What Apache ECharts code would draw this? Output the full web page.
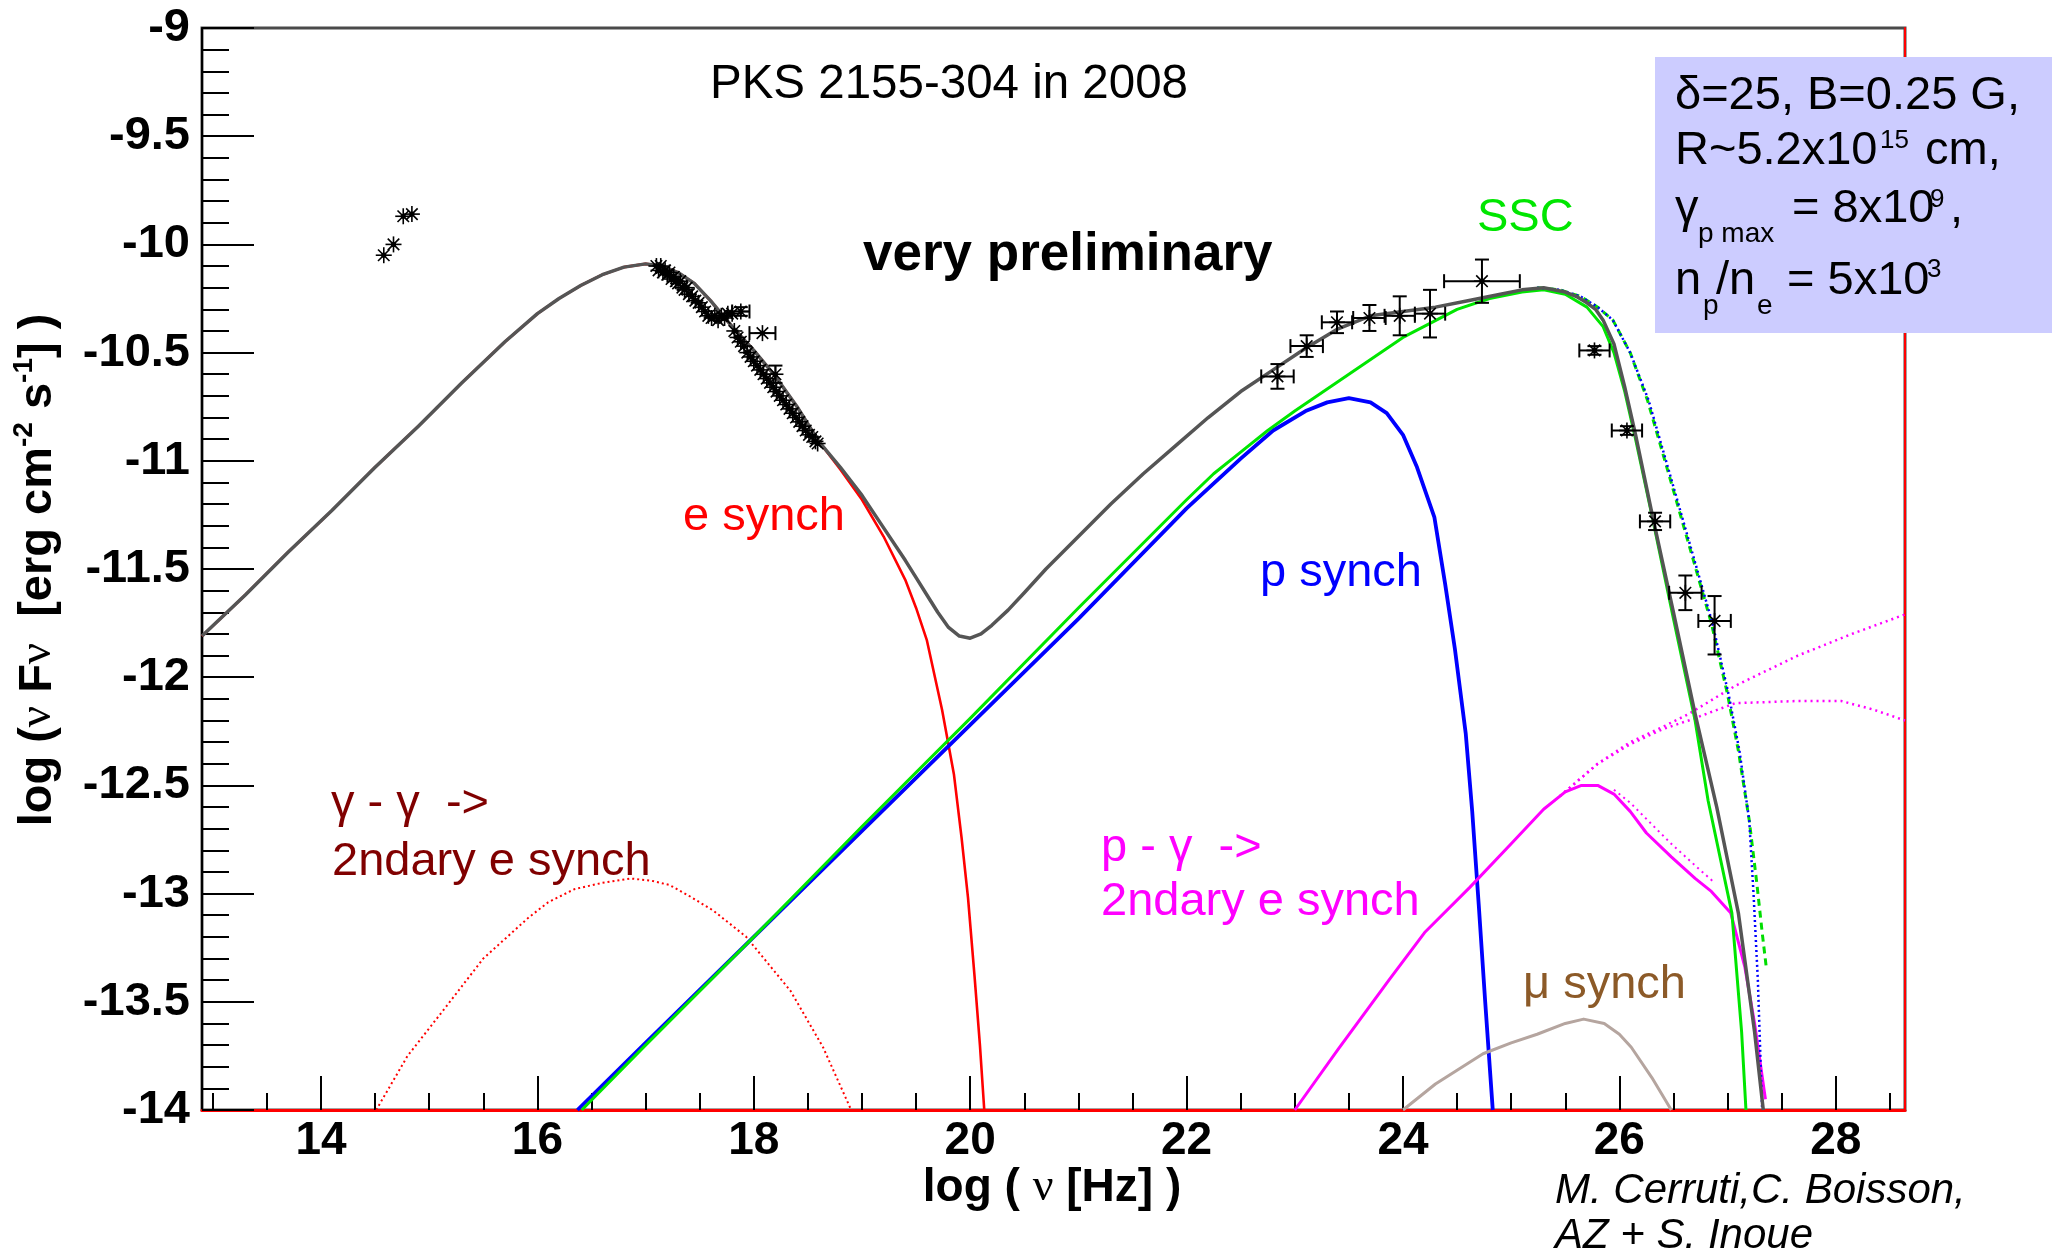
<!DOCTYPE html>
<html>
<head>
<meta charset="utf-8">
<title>PKS 2155-304 in 2008</title>
<script src="https://cdn.jsdelivr.net/npm/echarts@6.0.0/dist/echarts.min.js"></script>
<style>
html, body { margin: 0; padding: 0; background: #ffffff; }
#sed { width: 2052px; height: 1255px; }
</style>
</head>
<body>
<div id="sed"></div>
<script>
// ---- axis ranges and ticks (log10 nu [Hz], log10 nuFnu [erg cm^-2 s^-1]) ----
const xRange = [12.9, 28.64];
const yRange = [-14, -9];
const xMajorTicks = [14, 16, 18, 20, 22, 24, 26, 28];
const xMinorTicks = [13, 13.5, 14.5, 15, 15.5, 16.5, 17, 17.5, 18.5, 19, 19.5, 20.5, 21, 21.5,
  22.5, 23, 23.5, 24.5, 25, 25.5, 26.5, 27, 27.5, 28.5];

// ---- model components ----
const totalX = [12.9, 13.3, 13.7, 14.1, 14.5, 14.9, 15.3, 15.7, 16.0, 16.2, 16.4, 16.6, 16.8, 17.0,
  17.15, 17.3, 17.45, 17.6, 17.8, 18.0, 18.2, 18.4, 18.6, 18.8, 19.0, 19.2, 19.4, 19.5, 19.6, 19.7,
  19.8, 19.9, 20.0, 20.1, 20.2, 20.35, 20.5, 20.7, 21.0, 21.3, 21.6, 21.9, 22.2, 22.5, 22.8, 23.1,
  23.4, 23.7, 24.0, 24.3, 24.6, 24.9, 25.1, 25.3, 25.5, 25.6, 25.7, 25.78, 25.85, 25.95, 26.05,
  26.15, 26.3, 26.5, 26.7, 26.9, 27.1, 27.25, 27.33];
const totalY = [-11.81, -11.62, -11.42, -11.23, -11.03, -10.84, -10.64, -10.45, -10.32, -10.25,
  -10.19, -10.14, -10.105, -10.09, -10.10, -10.13, -10.18, -10.26, -10.38, -10.49, -10.61, -10.75,
  -10.91, -11.03, -11.16, -11.31, -11.46, -11.54, -11.62, -11.70, -11.77, -11.81, -11.82, -11.80,
  -11.76, -11.69, -11.61, -11.5, -11.35, -11.2, -11.06, -10.93, -10.8, -10.68, -10.58, -10.48,
  -10.39, -10.33, -10.31, -10.29, -10.26, -10.23, -10.21, -10.2, -10.22, -10.24, -10.27, -10.30,
  -10.35, -10.46, -10.66, -10.88, -11.24, -11.7, -12.17, -12.6, -13.09, -13.64, -14.0];

const eSynchX = [12.9, 13.3, 13.7, 14.1, 14.5, 14.9, 15.3, 15.7, 16.0, 16.2, 16.4, 16.6, 16.8, 17.0,
  17.15, 17.3, 17.45, 17.6, 17.8, 18.0, 18.2, 18.4, 18.6, 18.8, 19.0, 19.2, 19.4, 19.5, 19.6, 19.74,
  19.85, 19.92, 19.98, 20.04, 20.09, 20.13];
const eSynchY = [-11.81, -11.62, -11.42, -11.23, -11.03, -10.84, -10.64, -10.45, -10.32, -10.25,
  -10.19, -10.14, -10.105, -10.09, -10.10, -10.13, -10.18, -10.26, -10.38, -10.49, -10.61, -10.75,
  -10.91, -11.04, -11.18, -11.35, -11.55, -11.68, -11.83, -12.15, -12.45, -12.74, -13.02, -13.38,
  -13.7, -14.0];

const pSynchX = [16.37, 17, 18, 19, 20, 21, 22, 22.5, 22.8, 23.1, 23.3, 23.5, 23.7, 23.85, 24.0,
  24.13, 24.29, 24.39, 24.48, 24.58, 24.64, 24.7, 24.76, 24.83];
const pSynchY = [-14, -13.69, -13.2, -12.71, -12.22, -11.73, -11.22, -10.99, -10.86, -10.77, -10.73,
  -10.71, -10.73, -10.78, -10.88, -11.03, -11.26, -11.57, -11.87, -12.26, -12.62, -13.05, -13.5, -14];

const sscX = [16.41, 17, 18, 19, 20, 21, 22, 22.25, 22.5, 22.75, 23.0, 23.5, 24.0, 24.5, 24.8, 25.1,
  25.3, 25.5, 25.7, 25.85, 25.95, 26.05, 26.15, 26.3, 26.5, 26.7, 26.82, 27.04, 27.13, 27.17];
const sscY = [-14, -13.70, -13.2, -12.69, -12.19, -11.68, -11.18, -11.06, -10.96, -10.86, -10.77,
  -10.6, -10.43, -10.3, -10.25, -10.22, -10.21, -10.23, -10.29, -10.38, -10.5, -10.68, -10.9, -11.25,
  -11.73, -12.2, -12.57, -13.09, -13.64, -14];

// intrinsic (unabsorbed) high-energy curves
const sscIntX = [25.24, 25.45, 25.64, 25.8, 25.94, 26.1, 26.26, 26.45, 26.65, 26.85, 27.0, 27.1,
  27.2, 27.27, 27.32, 27.36];
const sscIntY = [-10.2, -10.21, -10.24, -10.29, -10.35, -10.5, -10.72, -11.05, -11.4, -11.75, -12.08,
  -12.34, -12.66, -12.95, -13.18, -13.35];
const totIntX = [25.24, 25.45, 25.64, 25.8, 25.94, 26.1, 26.27, 26.46, 26.66, 26.86, 27.01, 27.11,
  27.2, 27.24, 27.28, 27.32];
const totIntY = [-10.2, -10.21, -10.24, -10.29, -10.35, -10.5, -10.72, -11.05, -11.4, -11.75, -12.08,
  -12.34, -12.66, -13.0, -13.4, -14.0];

// p-gamma secondary electron synchrotron
const pgX = [23.0, 23.4, 23.87, 24.2, 24.62, 25.0, 25.3, 25.5, 25.65, 25.8, 25.95, 26.1, 26.25,
  26.48, 26.7, 26.85, 27.03, 27.16, 27.25, 27.35];
const pgY = [-14.0, -13.72, -13.4, -13.18, -12.97, -12.77, -12.61, -12.53, -12.5, -12.5, -12.54,
  -12.62, -12.72, -12.83, -12.93, -12.99, -13.09, -13.34, -13.6, -13.95];
const pgTailX = [25.95, 26.1, 26.3, 26.48, 26.7, 26.88];
const pgTailY = [-12.52, -12.58, -12.68, -12.77, -12.87, -12.95];
const pgCascadeAX = [25.45, 25.8, 26.1, 26.4, 26.64, 27.07, 27.65, 28.15, 28.64];
const pgCascadeAY = [-12.55, -12.4, -12.3, -12.23, -12.17, -12.04, -11.9, -11.8, -11.71];
const pgCascadeBX = [25.45, 25.8, 26.1, 26.4, 26.64, 27.07, 27.65, 28.05, 28.35, 28.64];
const pgCascadeBY = [-12.55, -12.4, -12.31, -12.24, -12.2, -12.12, -12.11, -12.11, -12.15, -12.2];

// muon synchrotron
const muX = [24.0, 24.3, 24.74, 25.0, 25.24, 25.5, 25.67, 25.86, 26.0, 26.11, 26.3, 26.48];
const muY = [-14, -13.88, -13.74, -13.69, -13.65, -13.6, -13.58, -13.6, -13.65, -13.71, -13.85, -14];

// gamma-gamma secondary electron synchrotron
const ggX = [14.51, 14.8, 15.16, 15.5, 15.92, 16.1, 16.34, 16.6, 16.86, 17.05, 17.22, 17.4, 17.63,
  17.93, 18.34, 18.64, 18.9];
const ggY = [-14, -13.75, -13.52, -13.3, -13.11, -13.04, -12.98, -12.95, -12.93, -12.94, -12.96,
  -13.01, -13.08, -13.2, -13.45, -13.71, -14];

// ---- observations ----
const optX = [14.58, 14.67, 14.76, 14.84];
const optY = [-10.05, -10.00, -9.87, -9.86];

const xrayX = [17.10, 17.12, 17.14, 17.16, 17.18, 17.20, 17.22, 17.24, 17.26, 17.28, 17.30, 17.32,
  17.34, 17.36, 17.38, 17.40, 17.43, 17.46, 17.49, 17.52, 17.55, 17.58, 17.61, 17.64, 17.67, 17.70,
  17.73, 17.76, 17.80, 17.82, 17.85, 17.88, 17.91, 17.94, 17.97, 18.00, 18.03, 18.06, 18.09, 18.12,
  18.15, 18.18, 18.21, 18.24, 18.27, 18.30, 18.33, 18.36, 18.39, 18.42, 18.45, 18.48, 18.51, 18.54,
  18.57, 18.59];
const xrayY = [-10.10, -10.12, -10.10, -10.13, -10.12, -10.14, -10.13, -10.16, -10.15, -10.17, -10.18,
  -10.17, -10.20, -10.21, -10.20, -10.23, -10.24, -10.26, -10.27, -10.29, -10.31, -10.33, -10.34,
  -10.33, -10.35, -10.33, -10.34, -10.32, -10.32, -10.40, -10.43, -10.45, -10.47, -10.50, -10.52,
  -10.54, -10.56, -10.58, -10.60, -10.62, -10.64, -10.66, -10.68, -10.70, -10.72, -10.74, -10.76,
  -10.78, -10.80, -10.82, -10.84, -10.86, -10.88, -10.89, -10.91, -10.92];
// X-ray points drawn with error bars
const xrayBarX = [17.88, 18.08, 18.20];
const xrayBarY = [-10.31, -10.41, -10.60];
const xrayBarXErr = [0.08, 0.12, 0];
const xrayBarYErr = [0.02, 0, 0.04];

const gevX = [22.84, 23.11, 23.39, 23.69, 23.97, 24.25, 24.73];
const gevY = [-10.61, -10.47, -10.36, -10.34, -10.33, -10.32, -10.17];
const gevXErr = [0.15, 0.15, 0.14, 0.15, 0.14, 0.14, 0.35];
const gevYErr = [0.057, 0.05, 0.05, 0.06, 0.09, 0.11, 0.1];

const tevX = [25.77, 26.07, 26.33, 26.61, 26.88];
const tevY = [-10.49, -10.86, -11.28, -11.61, -11.74];
const tevXErr = [0.14, 0.14, 0.14, 0.15, 0.15];
const tevYErrLo = [0.02, 0.02, 0.04, 0.08, 0.155];
const tevYErrHi = [0.02, 0.02, 0.04, 0.08, 0.115];

// ---- helpers ----
const SANS = '"Liberation Sans", Arial, Helvetica, sans-serif';
const SERIF = '"Liberation Serif", "Times New Roman", serif';

function pairs(xs, ys) { return xs.map((x, i) => [x, ys[i]]); }

function curve(name, xs, ys, color, width, dash, z) {
  return {
    name: name, type: 'line', data: pairs(xs, ys),
    showSymbol: false, symbol: 'none', smooth: false,
    lineStyle: { color: color, width: width, type: dash || 'solid', cap: 'butt', join: 'round' },
    z: z || 2, silent: true, animation: false, clip: true
  };
}

// rows: [x, y, xErrLo, xErrHi, yErrLo, yErrHi]
function obsRows(xs, ys, xl, xh, yl, yh) {
  return xs.map((x, i) => [x, ys[i],
    xl ? xl[i] : 0, xh ? xh[i] : 0, yl ? yl[i] : 0, yh ? yh[i] : 0]);
}

function renderObs(params, api) {
  const x = api.value(0), y = api.value(1);
  const xl = api.value(2), xh = api.value(3), yl = api.value(4), yh = api.value(5);
  const c = api.coord([x, y]);
  const kids = [];
  const seg = (x1, y1, x2, y2, w) => kids.push({
    type: 'line', shape: { x1: x1, y1: y1, x2: x2, y2: y2 },
    style: { stroke: '#000', lineWidth: w || 2 }
  });
  const cap = 7;
  if (xl > 0 || xh > 0) {
    const a = api.coord([x - xl, y]), b = api.coord([x + xh, y]);
    seg(a[0], a[1], b[0], b[1]);
    seg(a[0], a[1] - cap, a[0], a[1] + cap);
    seg(b[0], b[1] - cap, b[0], b[1] + cap);
  }
  if (yl > 0 || yh > 0) {
    const a = api.coord([x, y - yl]), b = api.coord([x, y + yh]);
    seg(a[0], a[1], b[0], b[1]);
    seg(a[0] - cap, a[1], a[0] + cap, a[1]);
    seg(b[0] - cap, b[1], b[0] + cap, b[1]);
  }
  const r = 8, d = r * 0.72;
  seg(c[0] - r, c[1], c[0] + r, c[1], 1.6);
  seg(c[0], c[1] - r, c[0], c[1] + r, 1.6);
  seg(c[0] - d, c[1] - d, c[0] + d, c[1] + d, 1.6);
  seg(c[0] - d, c[1] + d, c[0] + d, c[1] - d, 1.6);
  kids.push({ type: 'circle', shape: { cx: c[0], cy: c[1], r: 2.6 }, style: { fill: '#000' } });
  return { type: 'group', children: kids };
}

function obsSeries(name, rows) {
  return {
    name: name, type: 'custom', data: rows, encode: { x: 0, y: 1 },
    renderItem: renderObs, z: 10, silent: true, animation: false, clip: false
  };
}

function label(text, x, y, color, size, extra) {
  return {
    type: 'text', x: x, y: y, z: 100, silent: true,
    style: Object.assign({
      text: text, fill: color, fontSize: size, fontFamily: SANS,
      align: 'left', verticalAlign: 'middle', textAlign: 'left', textVerticalAlign: 'middle'
    }, extra || {})
  };
}

const chart = echarts.init(document.getElementById('sed'), null, { renderer: 'canvas' });

chart.setOption({
  animation: false,
  backgroundColor: '#ffffff',
  grid: {
    left: 202, top: 28, right: 147, bottom: 145,
    show: true, borderColor: '#4a4a4a', borderWidth: 3, backgroundColor: 'transparent'
  },
  xAxis: [{
    type: 'value', min: xRange[0], max: xRange[1], position: 'bottom',
    splitLine: { show: false },
    axisLine: { show: true, onZero: false, lineStyle: { color: '#ff0000', width: 3 } },
    axisTick: { show: true, inside: true, length: 34, customValues: xMajorTicks,
      lineStyle: { color: '#000', width: 2 } },
    axisLabel: { show: true, customValues: xMajorTicks, margin: 8, color: '#000',
      fontFamily: SANS, fontWeight: 'bold', fontSize: 46 }
  }, {
    type: 'value', min: xRange[0], max: xRange[1], position: 'bottom',
    splitLine: { show: false },
    axisLine: { show: false, onZero: false },
    axisTick: { show: true, inside: true, length: 17, customValues: xMinorTicks,
      lineStyle: { color: '#000', width: 2 } },
    axisLabel: { show: false }
  }],
  yAxis: [{
    type: 'value', min: yRange[0], max: yRange[1], interval: 0.5, position: 'left',
    splitLine: { show: false },
    axisLine: { show: true, onZero: false, lineStyle: { color: '#000', width: 2 } },
    axisTick: { show: true, inside: true, length: 52, lineStyle: { color: '#000', width: 2 } },
    minorTick: { show: true, splitNumber: 5, length: 27, lineStyle: { color: '#000', width: 2 } },
    axisLabel: { show: true, margin: 12, color: '#000', fontFamily: SANS, fontWeight: 'bold',
      fontSize: 47 }
  }, {
    type: 'value', min: yRange[0], max: yRange[1], position: 'right',
    splitLine: { show: false },
    axisLine: { show: true, onZero: false, lineStyle: { color: '#ff0000', width: 2 } },
    axisTick: { show: false }, axisLabel: { show: false }
  }],
  series: [
    curve('gamma-gamma 2ndary e synch', ggX, ggY, '#ff0000', 2, [2, 3], 2),
    curve('e synch', eSynchX, eSynchY, '#ff0000', 2.6, 'solid', 3),
    curve('p synch', pSynchX, pSynchY, '#0000ff', 3.8, 'solid', 3),
    curve('SSC', sscX, sscY, '#00e600', 3, 'solid', 4),
    curve('p-gamma 2ndary e synch', pgX, pgY, '#ff00ff', 3, 'solid', 3),
    curve('p-gamma 2ndary e synch tail', pgTailX, pgTailY, '#ff00ff', 2, [2, 4], 3),
    curve('p-gamma cascade A', pgCascadeAX, pgCascadeAY, '#ff00ff', 2.5, [2, 4], 3),
    curve('p-gamma cascade B', pgCascadeBX, pgCascadeBY, '#ff00ff', 2.5, [2, 4], 3),
    curve('mu synch', muX, muY, '#b5a59f', 3, 'solid', 3),
    curve('SSC intrinsic', sscIntX, sscIntY, '#00dd00', 3, [7, 5], 4),
    curve('total intrinsic', totIntX, totIntY, '#0000ff', 2.5, [2, 3], 4),
    curve('total', totalX, totalY, '#555555', 3.5, 'solid', 6),
    obsSeries('optical', obsRows(optX, optY)),
    obsSeries('X-ray', obsRows(xrayX, xrayY)),
    obsSeries('X-ray with errors', obsRows(xrayBarX, xrayBarY, xrayBarXErr, xrayBarXErr, xrayBarYErr, xrayBarYErr)),
    obsSeries('Fermi', obsRows(gevX, gevY, gevXErr, gevXErr, gevYErr, gevYErr)),
    obsSeries('HESS', obsRows(tevX, tevY, tevXErr, tevXErr, tevYErrLo, tevYErrHi))
  ],
  graphic: [
    label('PKS 2155-304 in 2008', 949, 85, '#000', 47.5, { align: 'center', textAlign: 'center' }),
    label('very preliminary', 863, 255, '#000', 53, { fontWeight: 'bold' }),
    label('SSC', 1477, 218, '#00e600', 47),
    label('e synch', 683, 517, '#ff0000', 47),
    label('p synch', 1260, 573, '#0000ff', 47),
    label('\u03b3 - \u03b3  ->', 331, 804, '#800000', 47),
    label('2ndary e synch', 332, 862, '#800000', 47),
    label('p - \u03b3  ->', 1101, 848, '#ff00ff', 47),
    label('2ndary e synch', 1101, 902, '#ff00ff', 47),
    label('\u03bc synch', 1523, 985, '#8c5a28', 47),
    label('M. Cerruti,C. Boisson,', 1555, 1191, '#000', 42, { fontStyle: 'italic' }),
    label('AZ + S. Inoue', 1555, 1236, '#000', 42, { fontStyle: 'italic' }),
    // parameter box
    { type: 'rect', z: 90, silent: true, shape: { x: 1655, y: 57, width: 397, height: 276 },
      style: { fill: '#ccccff' } },
    label('\u03b4=25, B=0.25 G,', 1675, 96, '#000', 47),
    label('R~5.2x10', 1675, 151, '#000', 47),
    label('15', 1880, 141, '#000', 26),
    label('cm,', 1925, 151, '#000', 47),
    label('\u03b3', 1675, 209, '#000', 47),
    label('p max', 1698, 234, '#000', 28),
    label('= 8x10', 1792, 209, '#000', 47),
    label('9', 1930, 200, '#000', 26),
    label(',', 1950, 209, '#000', 47),
    label('n', 1675, 281, '#000', 47),
    label('p', 1703, 306, '#000', 28),
    label('/n', 1716, 281, '#000', 47),
    label('e', 1757, 306, '#000', 28),
    label('= 5x10', 1787, 281, '#000', 47),
    label('3', 1927, 270, '#000', 26),
    // axis titles
    { type: 'text', x: 38, y: 570, rotation: Math.PI / 2, z: 100, silent: true,
      style: {
        text: '{b|log (}{n|\u03bd}{b| F}{n|\u03bd}{b|  [erg cm}{s|-2}{b| s}{s|-1}{b|] )}',
        align: 'center', verticalAlign: 'middle', textAlign: 'center', textVerticalAlign: 'middle',
        rich: {
          b: { fontSize: 47, fontWeight: 'bold', fontFamily: SANS, fill: '#000', lineHeight: 56 },
          n: { fontSize: 47, fontFamily: SERIF, fill: '#000', lineHeight: 56 },
          s: { fontSize: 28, fontWeight: 'bold', fontFamily: SANS, fill: '#000', lineHeight: 30,
               verticalAlign: 'top' }
        }
      } },
    { type: 'text', x: 1052, y: 1188, z: 100, silent: true,
      style: {
        text: '{b|log ( }{n|\u03bd}{b| [Hz] )}',
        align: 'center', verticalAlign: 'middle', textAlign: 'center', textVerticalAlign: 'middle',
        rich: {
          b: { fontSize: 46, fontWeight: 'bold', fontFamily: SANS, fill: '#000' },
          n: { fontSize: 46, fontFamily: SERIF, fill: '#000' }
        }
      } }
  ]
});
</script>
</body>
</html>
